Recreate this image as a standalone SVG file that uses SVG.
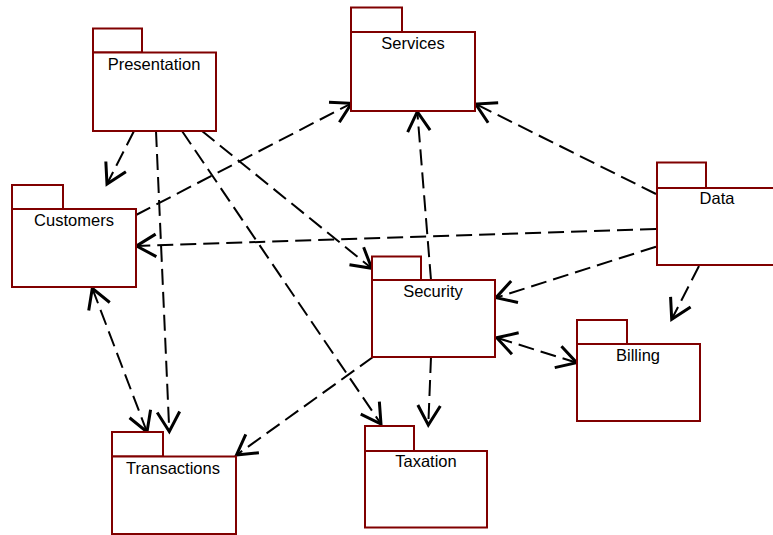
<svg xmlns="http://www.w3.org/2000/svg" width="773" height="535" viewBox="0 0 773 535">
<style>
.pkg rect{fill:#fff;stroke:#800000;stroke-width:2}
.pkg text{font-family:"Liberation Sans",Arial,sans-serif;font-size:16.5px;fill:#000;text-anchor:middle}
.conn line{stroke:#000;stroke-width:2;stroke-dasharray:16 7;fill:none}
.uni{marker-end:url(#arr)}
.bi{marker-end:url(#arr);marker-start:url(#arr)}
</style>
<defs>
<marker id="arr" markerUnits="userSpaceOnUse" markerWidth="30" markerHeight="30" viewBox="-16 -10 20 20" refX="0" refY="0" orient="auto-start-reverse">
<path d="M-13,-7.5 L0,0 L-13,7.5" fill="none" stroke="#000" stroke-width="2"/>
</marker>
</defs>
<rect width="773" height="535" fill="#fff"/>
<g class="conn" id="connectors">
<line class="uni" x1="134" y1="131" x2="107" y2="184"/>
<line class="uni" x1="156" y1="131" x2="169.3" y2="431.5"/>
<line class="uni" x1="182" y1="131" x2="381" y2="424"/>
<line class="uni" x1="202" y1="131" x2="371.7" y2="268.3"/>
<line class="uni" x1="136" y1="215" x2="351.5" y2="103.3"/>
<line class="bi" x1="92.3" y1="288.3" x2="147" y2="432"/>
<line class="uni" x1="656" y1="194" x2="475.7" y2="104"/>
<line class="uni" x1="656" y1="229" x2="136.5" y2="246"/>
<line class="uni" x1="656" y1="246.7" x2="496" y2="297.7"/>
<line class="uni" x1="699" y1="266" x2="671.7" y2="319.3"/>
<line class="uni" x1="431" y1="280" x2="417.3" y2="111.7"/>
<line class="bi" x1="496.7" y1="337.7" x2="576.7" y2="362.7"/>
<line class="uni" x1="373" y1="357" x2="236.5" y2="455"/>
<line class="uni" x1="431" y1="357" x2="428.3" y2="425"/>
</g>
<g class="pkg" id="presentation">
<rect x="93" y="28.5" width="49" height="24"/>
<rect x="93" y="52.5" width="123" height="78.5"/>
<text x="154" y="70">Presentation</text>
</g>
<g class="pkg" id="services">
<rect x="351" y="7.5" width="51" height="24.5"/>
<rect x="351" y="32" width="124" height="79"/>
<text x="413" y="48.5">Services</text>
</g>
<g class="pkg" id="data">
<rect x="657" y="162.5" width="49" height="25.5"/>
<rect x="657" y="188" width="130" height="77"/>
<text x="717" y="204">Data</text>
</g>
<g class="pkg" id="customers">
<rect x="12" y="185" width="51" height="24"/>
<rect x="12" y="209" width="124" height="78"/>
<text x="74" y="226">Customers</text>
</g>
<g class="pkg" id="security">
<rect x="372" y="256.5" width="49" height="23.5"/>
<rect x="372" y="280" width="123" height="77"/>
<text x="433" y="296.5">Security</text>
</g>
<g class="pkg" id="billing">
<rect x="577" y="320" width="50" height="24"/>
<rect x="577" y="344" width="123" height="77"/>
<text x="638" y="361">Billing</text>
</g>
<g class="pkg" id="transactions">
<rect x="112" y="432" width="51" height="24.5"/>
<rect x="112" y="456.5" width="124" height="77.5"/>
<text x="173" y="474">Transactions</text>
</g>
<g class="pkg" id="taxation">
<rect x="365" y="426" width="49" height="25"/>
<rect x="365" y="451" width="122" height="76.5"/>
<text x="426" y="467">Taxation</text>
</g>
</svg>
